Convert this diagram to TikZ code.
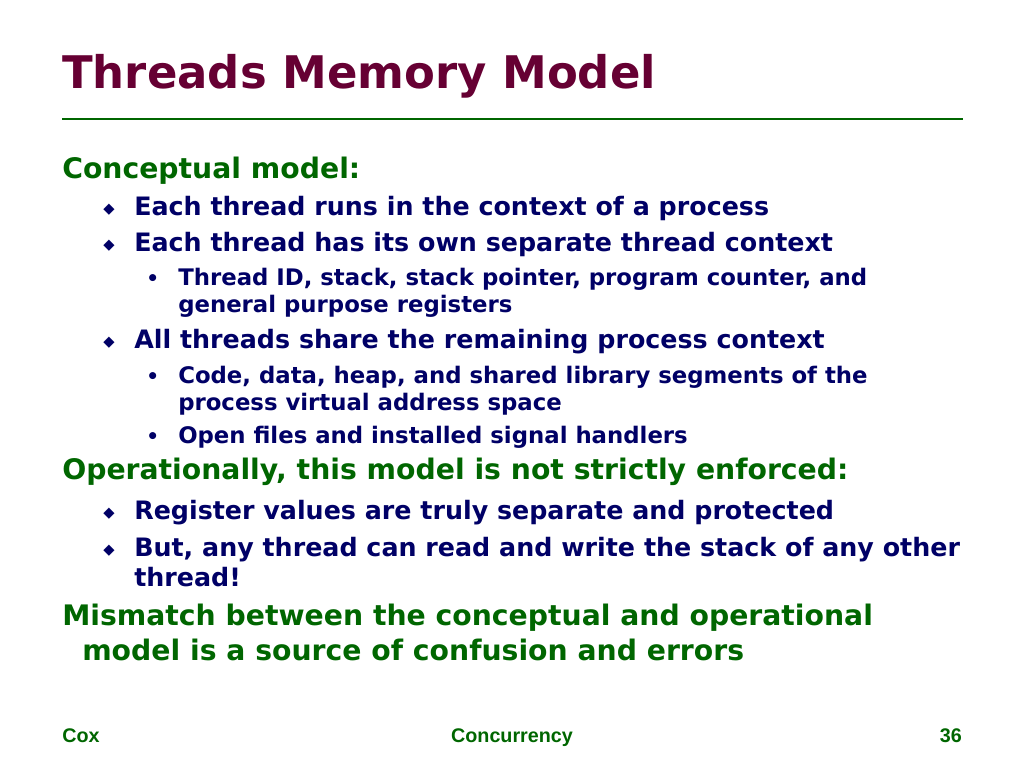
\documentclass[tikz,border=0pt]{standalone}
\usepackage{fontspec}
\setmainfont{DejaVu Sans}
\newfontfamily\footfont{Liberation Sans}
\definecolor{titlec}{HTML}{660033}
\definecolor{greenc}{HTML}{006600}
\definecolor{navyc}{HTML}{000066}
\begin{document}
\begin{tikzpicture}[x=0.75pt,y=-0.75pt,
  every node/.style={inner sep=0pt,anchor=base west},
  ttl/.style={font=\fontsize{33.7}{40}\bfseries\selectfont,text=titlec},
  lone/.style={font=\fontsize{21.2}{25}\bfseries\selectfont,text=greenc},
  ltwo/.style={font=\fontsize{19}{23}\bfseries\selectfont,text=navyc},
  lthree/.style={font=\fontsize{17.1}{20}\bfseries\selectfont,text=navyc},
  bul/.style={font=\fontsize{11}{12}\selectfont,text=navyc},
  dot/.style={font=\fontsize{15}{16}\bfseries\selectfont,text=navyc},
  foot/.style={font=\footfont\fontsize{14.8}{17}\bfseries\selectfont,text=greenc}]
\useasboundingbox (0,0) rectangle (1024,768);
\node[ttl] (t) at (62,88) {Threads Memory Model};
\draw[greenc,line width=1.5pt] (62,119) coordinate (r1) -- (963,119) coordinate (r2);
\node[lone] (a) at (62,178) {Conceptual model:};
\node[bul] (b1) at (103,213) {◆}; \node[ltwo] (a1) at (134,215) {Each thread runs in the context of a process};
\node[bul] (b2) at (103,249) {◆}; \node[ltwo] (a2) at (134,251) {Each thread has its own separate thread context};
\node[dot] (d1) at (146,285) {•}; \node[lthree] (a3) at (178,285) {Thread ID, stack, stack pointer, program counter, and};
\node[lthree] (a4) at (178,312) {general purpose registers};
\node[bul] (b3) at (103,346) {◆}; \node[ltwo] (a5) at (134,348) {All threads share the remaining process context};
\node[dot] (d2) at (146,383) {•}; \node[lthree] (a6) at (178,383) {Code, data, heap, and shared library segments of the};
\node[lthree] (a7) at (178,410) {process virtual address space};
\node[dot] (d3) at (146,443) {•}; \node[lthree] (a8) at (178,443) {Open files and installed signal handlers};
\node[lone] (o) at (62,479) {Operationally, this model is not strictly enforced:};
\node[bul] (b4) at (103,517) {◆}; \node[ltwo] (o1) at (134,519) {Register values are truly separate and protected};
\node[bul] (b5) at (103,554) {◆}; \node[ltwo] (o2) at (134,556) {But, any thread can read and write the stack of any other};
\node[ltwo] (o3) at (134,586) {thread!};
\node[lone] (m) at (62,625) {Mismatch between the conceptual and operational};
\node[lone] (m2) at (82,660) {model is a source of confusion and errors};
\node[foot] (f1) at (62,742) {Cox};
\node[foot,anchor=base] (f2) at (512,742) {Concurrency};
\node[foot,anchor=base east] (f3) at (962,742) {36};
\end{tikzpicture}
\end{document}
